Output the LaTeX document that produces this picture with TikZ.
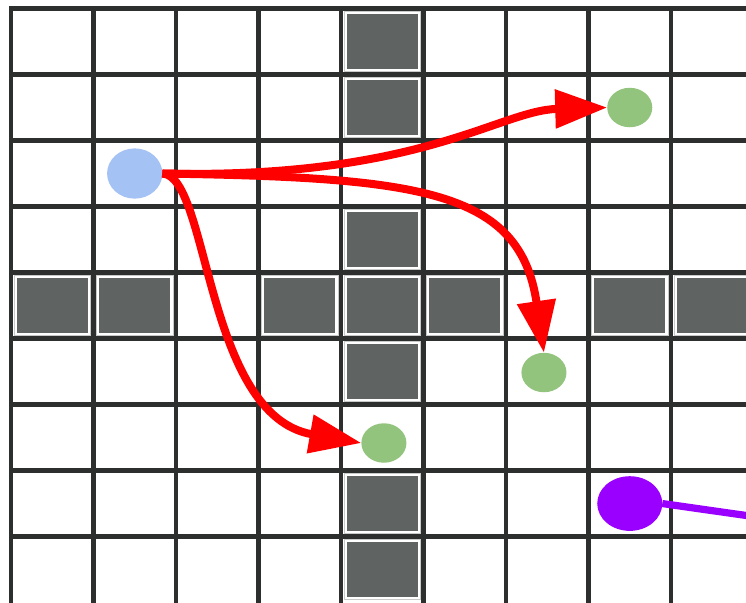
\documentclass[tikz,border=0pt]{standalone}
\usepackage{tikz}
\usetikzlibrary{arrows.meta,shapes.geometric}
\definecolor{gridline}{RGB}{45,47,46}
\definecolor{wallfill}{RGB}{95,99,98}
\definecolor{wallrim}{RGB}{200,202,201}
\definecolor{robotblue}{RGB}{164,194,244}
\definecolor{goalgreen}{RGB}{147,196,125}
\definecolor{otherpurple}{RGB}{153,0,255}
\newcommand{\wall}[2]{\draw[color=wallrim, line width=0.6pt] (#1+0.036,#2+0.045) rectangle (#1+0.964,#2+0.955); \fill[color=wallfill] (#1+0.067,#2+0.083) rectangle (#1+0.933,#2+0.917);}

\begin{document}
\begin{tikzpicture}[x=61.875pt, y=-49.5pt,
    dot/.style={ellipse, inner sep=0pt, outer sep=0pt},
    route/.style={color=red, line width=6pt, -{Triangle[length=39pt, width=28pt]}}]
    \useasboundingbox (-0.133,-0.129) rectangle (8.909,8.992);
    \clip (-0.133,-0.129) rectangle (8.909,8.992);
    \foreach \i in {0,...,8} {
        \draw[color=gridline, line width=3.1pt, line cap=rect] (\i,0) -- (\i,9.3);
        \draw[color=gridline, line width=3.1pt, line cap=rect] (0,\i) -- (9.3,\i);
    }
    \foreach \c/\r in {4/0,4/1,4/3,4/4,4/5,4/7,4/8,0/4,1/4,3/4,5/4,7/4,8/4} {\wall{\c}{\r}}

    \node[dot, fill=robotblue, minimum width=41.5pt, minimum height=37.7pt] (start) at (1.5,2.5) {};
    \node[dot, fill=goalgreen, minimum width=33.8pt, minimum height=29.6pt] (goalA) at (7.5,1.5) {};
    \node[dot, fill=goalgreen, minimum width=33.8pt, minimum height=29.6pt] (goalB) at (6.46,5.515) {};
    \node[dot, fill=goalgreen, minimum width=33.8pt, minimum height=29.6pt] (goalC) at (4.52,6.583) {};
    \node[dot, fill=otherpurple, minimum width=48.8pt, minimum height=41pt] (other) at (7.5,7.5) {};
    \coordinate (tail) at (9.3,7.75);

    \draw[route] (start.east) .. controls +(3.12,0.09) and +(-1.31,0.045) .. (goalA.west);
    \draw[route] (start.east) .. controls +(3.12,0.06) and +(-0.29,-2.47) .. (goalB.north);
    \draw[route] (start.east) .. controls +(0.57,0.03) and +(-1.9,-0.42) .. (goalC.west);
    \draw[color=otherpurple, line width=5.4pt] (other.east) -- (tail);
\end{tikzpicture}
\end{document}
